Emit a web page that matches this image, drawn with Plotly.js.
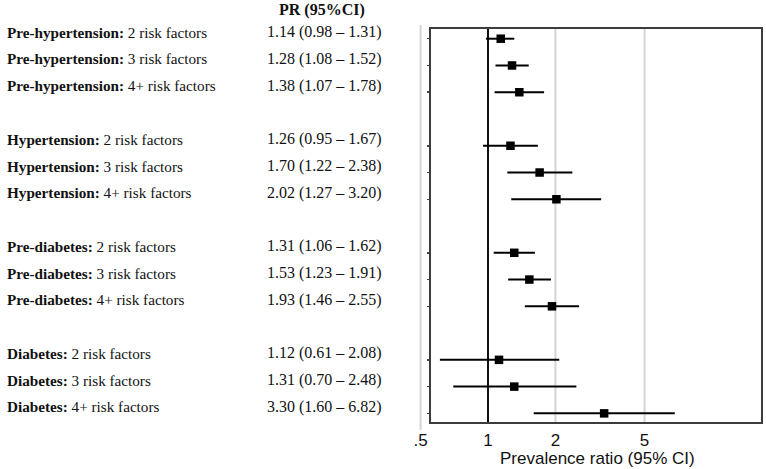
<!DOCTYPE html>
<html>
<head>
<meta charset="utf-8">
<script src="https://cdn.plot.ly/plotly-3.0.1.min.js"></script>
<style>
  html, body { margin: 0; padding: 0; background: #ffffff; }
  #chart { width: 766px; height: 469px; }
</style>
</head>
<body>
<div id="chart"></div>
<script>
// ---- data ----
const groups = ['Pre-hypertension', 'Hypertension', 'Pre-diabetes', 'Diabetes'];
const riskLevels = ['2', '3', '4+'];
const pr     = [1.14, 1.28, 1.38, 1.26, 1.70, 2.02, 1.31, 1.53, 1.93, 1.12, 1.31, 3.30];
const ciLow  = [0.98, 1.08, 1.07, 0.95, 1.22, 1.27, 1.06, 1.23, 1.46, 0.61, 0.70, 1.60];
const ciHigh = [1.31, 1.52, 1.78, 1.67, 2.38, 3.20, 1.62, 1.91, 2.55, 2.08, 2.48, 6.82];
const xTickVals = [0.5, 1, 2, 5];
const xTickText = ['.5', '1', '2', '5'];
const gridVals = [0.5, 2, 5];
const columnHeader = 'PR (95%CI)';
const xTitle = 'Prevalence ratio (95% CI)';

// ---- layout helpers (pixel geometry) ----
const W = 766, H = 469;
const boxLeft = 430, boxRight = 762, boxTop = 28, boxBottom = 423;
const plotLeft = 418;
const pxPerDecade = 224, xOnePx = 488;
const px = v => v / W;
const py = v => (H - v) / H;

const serif = 'Liberation Serif, Times New Roman, serif';
const sans = 'Liberation Sans, Arial, sans-serif';

// row slots: groups separated by one empty slot
const slots = [], labels = [], prText = [];
groups.forEach((g, gi) => {
  riskLevels.forEach((r, ri) => {
    const idx = gi * riskLevels.length + ri;
    slots.push(gi * (riskLevels.length + 1) + ri);
    labels.push('<b>' + g + ':</b> ' + r + ' risk factors');
    prText.push(pr[idx].toFixed(2) + ' (' + ciLow[idx].toFixed(2) + ' \u2013 ' + ciHigh[idx].toFixed(2) + ')');
  });
});

const errPlus = pr.map((v, i) => ciHigh[i] - v);
const errMinus = pr.map((v, i) => v - ciLow[i]);

const trace = {
  type: 'scatter',
  mode: 'markers',
  x: pr,
  y: slots,
  marker: { symbol: 'square', size: 8.5, color: '#000000' },
  error_x: {
    type: 'data', symmetric: false,
    array: errPlus, arrayminus: errMinus,
    color: '#000000', thickness: 2, width: 0
  },
  hoverinfo: 'skip',
  showlegend: false
};

const lastSlot = slots[slots.length - 1];
const yTop = -0.4, yBottom = lastSlot + 0.36;

const annotations = [];
labels.forEach((t, i) => {
  annotations.push({
    xref: 'paper', yref: 'y', x: px(5), y: slots[i], yshift: 6.5,
    xanchor: 'left', yanchor: 'middle', showarrow: false,
    text: t, font: { family: serif, size: 15.2, color: '#111111' }
  });
  annotations.push({
    xref: 'paper', yref: 'y', x: px(265), y: slots[i], yshift: 6.5,
    xanchor: 'left', yanchor: 'middle', showarrow: false,
    text: prText[i], font: { family: serif, size: 16, color: '#111111' }
  });
});
annotations.push({
  xref: 'paper', yref: 'paper', x: px(322), y: py(10),
  xanchor: 'center', yanchor: 'middle', showarrow: false,
  text: '<b>' + columnHeader + '</b>', font: { family: serif, size: 16, color: '#111111' }
});
annotations.push({
  xref: 'paper', yref: 'paper', x: px(597), y: py(458),
  xanchor: 'center', yanchor: 'middle', showarrow: false,
  text: xTitle, font: { family: sans, size: 17, color: '#111111' }
});

const shapes = gridVals.map(v => ({
  type: 'line', xref: 'x', yref: 'paper', x0: v, x1: v,
  y0: v < 1 ? py(430) : py(boxBottom), y1: v < 1 ? py(25) : py(boxTop),
  line: { color: '#d4d4d4', width: 2 }, layer: 'below'
}));
shapes.push({ type: 'line', xref: 'x', yref: 'y domain', x0: 1, x1: 1, y0: 0, y1: 1,
  line: { color: '#111111', width: 2 }, layer: 'below' });
shapes.push({ type: 'rect', xref: 'paper', yref: 'paper',
  x0: px(boxLeft), x1: px(boxRight), y0: py(boxBottom), y1: py(boxTop),
  line: { color: '#3c3c3c', width: 2 }, fillcolor: 'rgba(0,0,0,0)', layer: 'above' });

const layout = {
  width: W, height: H,
  margin: { l: 0, r: 0, t: 0, b: 0, pad: 0 },
  paper_bgcolor: '#ffffff', plot_bgcolor: 'rgba(0,0,0,0)',
  showlegend: false,
  xaxis: {
    type: 'log',
    domain: [px(plotLeft), px(boxRight)],
    range: [(plotLeft - xOnePx) / pxPerDecade, (boxRight - xOnePx) / pxPerDecade],
    tickvals: xTickVals, ticktext: xTickText,
    ticks: '', showline: false, zeroline: false,
    showgrid: false, ticklabelstandoff: 5,
    tickfont: { family: sans, size: 17, color: '#111111' },
    anchor: 'y', fixedrange: true
  },
  yaxis: {
    domain: [py(boxBottom), py(boxTop)],
    range: [yBottom, yTop],
    anchor: 'free', position: px(boxLeft),
    tickvals: slots, showticklabels: false,
    ticks: 'outside', ticklen: 3, tickwidth: 1.5, tickcolor: '#444444',
    showgrid: false, zeroline: false, showline: false, fixedrange: true
  },
  shapes: shapes,
  annotations: annotations
};

Plotly.newPlot('chart', [trace], layout, { staticPlot: true, displayModeBar: false });
</script>
</body>
</html>
